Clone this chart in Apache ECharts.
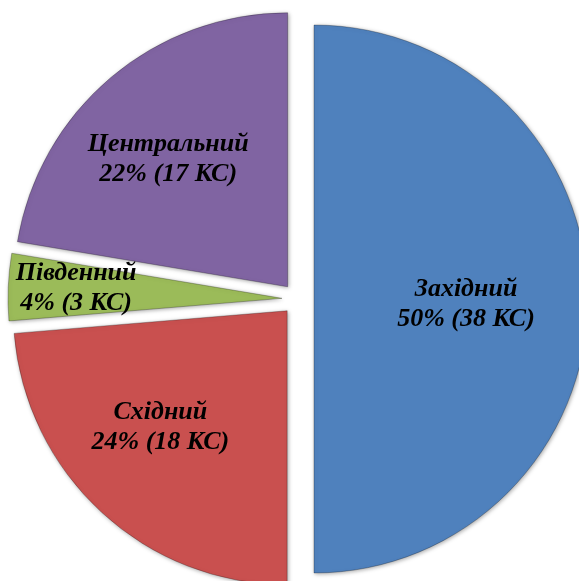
<!DOCTYPE html>
<html>
<head>
<meta charset="utf-8">
<script src="https://cdn.jsdelivr.net/npm/echarts@6/dist/echarts.min.js"></script>
<style>
  html, body { margin: 0; padding: 0; background: #fff; }
  #chart { width: 579px; height: 581px; }
</style>
</head>
<body>
<div id="chart"></div>
<script>
// регіони та кількість КС
const regions = ['Західний', 'Східний', 'Південний', 'Центральний'];
const counts = [38, 18, 3, 17];
const colors = ['#4f81bd', '#c9504f', '#9bbb59', '#8064a2'];
const labelShift = [[12, 5], [-32, 14], [-66, -4], [-29, -21]];

let myChart = echarts.init(document.getElementById('chart'));

let data = regions.map((name, i) => ({
  name: name,
  value: counts[i],
  selected: true,
  itemStyle: { color: colors[i] }
}));

let option = {
  animation: false,
  series: [
    {
      type: 'pie',
      center: [298, 299],
      radius: 274,
      startAngle: 90,
      clockwise: true,
      selectedMode: 'multiple',
      selectedOffset: 16,
      percentPrecision: 0,
      itemStyle: {
        borderColor: 'rgba(0,0,0,0.25)',
        borderWidth: 1,
        shadowBlur: 4,
        shadowColor: 'rgba(0,0,0,0.35)',
        shadowOffsetX: 1,
        shadowOffsetY: 1
      },
      label: {
        show: true,
        position: 'inside',
        formatter: '{b}\n{d}% ({c} КС)',
        color: '#000',
        fontFamily: '"Liberation Serif", "Times New Roman", serif',
        fontStyle: 'italic',
        fontWeight: 'bold',
        fontSize: 26,
        lineHeight: 30
      },
      labelLayout: function (params) {
        let s = labelShift[params.dataIndex];
        return { dx: s[0], dy: s[1] };
      },
      labelLine: { show: false },
      emphasis: { disabled: true },
      data: data
    }
  ]
};

option && myChart.setOption(option);
</script>
</body>
</html>
